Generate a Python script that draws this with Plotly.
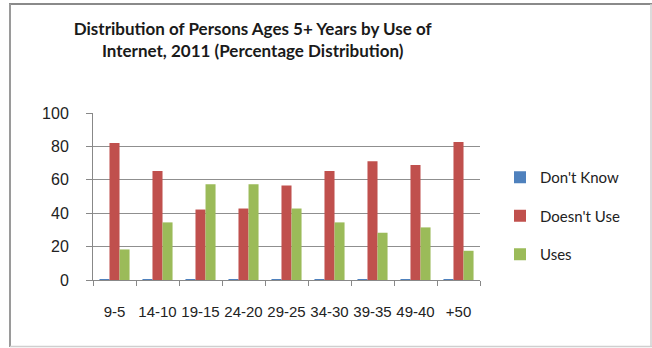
import plotly.graph_objects as go

categories = ["9-5", "14-10", "19-15", "24-20", "29-25", "34-30", "39-35", "49-40", "+50"]
dont_know = [0.1, 0.1, 0.4, 0.5, 0.6, 0.5, 0.2, 0.1, 0.1]
doesnt_use = [82.0, 65.2, 42.2, 42.8, 56.6, 65.2, 71.1, 68.9, 82.7]
uses = [18.3, 34.5, 57.4, 57.4, 42.8, 34.5, 28.3, 31.5, 17.5]

W, H = 652, 348
ML, MR, MT, MB = 93, 172, 113, 68
PW, PH = W - ML - MR, H - MT - MB

def px_x(x):
    return (x - ML) / PW

def px_y(y):
    return (H - MB - y) / PH

fig = go.Figure()
series = [("Don't Know", dont_know, "#4F81BD"),
          ("Doesn't Use", doesnt_use, "#C0504D"),
          ("Uses", uses, "#9BBB59")]
for name, vals, col in series:
    fig.add_trace(go.Bar(x=categories, y=vals, name=name, marker_color=col,
                         marker_line_width=0, legendgroup=name))

shapes = [
    dict(type="line", xref="paper", yref="paper", x0=px_x(9), x1=px_x(652), y0=px_y(4), y1=px_y(4),
         line=dict(color="#8a8a8a", width=2)),
    dict(type="line", xref="paper", yref="paper", x0=px_x(10), x1=px_x(10), y0=px_y(4), y1=px_y(347),
         line=dict(color="#9a9a9a", width=2)),
    dict(type="line", xref="paper", yref="paper", x0=px_x(651), x1=px_x(651), y0=px_y(4), y1=px_y(347),
         line=dict(color="#cfcfcf", width=1.5)),
    dict(type="line", xref="paper", yref="paper", x0=px_x(10), x1=px_x(652), y0=px_y(346.5), y1=px_y(346.5),
         line=dict(color="#cfcfcf", width=1.5)),
]

fig.update_layout(
    width=W, height=H,
    margin=dict(l=ML, r=MR, t=MT, b=MB),
    paper_bgcolor="white", plot_bgcolor="white",
    barmode="group", bargap=0.3, bargroupgap=0,
    title=dict(text="Distribution of Persons Ages 5+ Years by Use of<br>Internet, 2011 (Percentage Distribution)",
               x=px_x(243), xanchor="center", y=1 - 35 / H, yanchor="middle",
               font=dict(family="Lato", size=17, color="#1a1a1a", weight="bold")),
    font=dict(family="Liberation Sans, Arial", color="#222"),
    xaxis=dict(showline=True, linecolor="#888", linewidth=1, ticks="outside", ticklen=5,
               tickcolor="#888", tickson="boundaries", tickangle=0,
               tickfont=dict(size=15, color="#222"), ticklabelstandoff=18),
    yaxis=dict(range=[0, 100], dtick=20, showline=True, linecolor="#888", linewidth=1,
               ticks="outside", ticklen=6, tickcolor="#888", showgrid=True, gridcolor="#8f8f8f",
               gridwidth=1, zeroline=False, tickfont=dict(size=16, color="#222"),
               ticklabelstandoff=14),
    legend=dict(x=px_x(500), xanchor="left", y=px_y(161), yanchor="top",
                font=dict(family="Lato", size=15, color="#222"),
                traceorder="grouped", tracegroupgap=16, bgcolor="rgba(0,0,0,0)"),
    shapes=shapes,
)

fig.write_html("out.html")
